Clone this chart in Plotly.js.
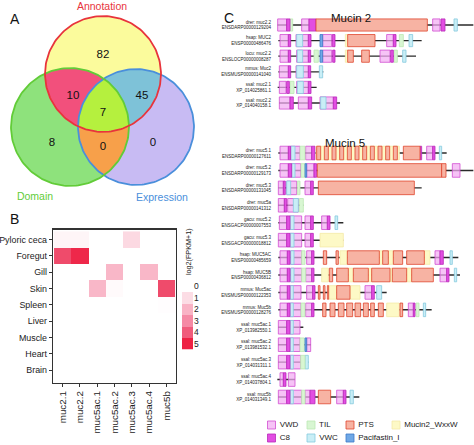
<!DOCTYPE html>
<html><head><meta charset="utf-8">
<script src="https://cdn.plot.ly/plotly-3.0.1.min.js"></script>
<style>html,body{margin:0;padding:0;background:#fff}#chart{width:474px;height:445px}</style>
</head><body><div id="chart"></div>
<script>
// ---------------- Panel A: Venn ----------------
const vennSets = ['Annotation', 'Domain', 'Expression'];
const vennCenterX = [103, 70, 136];
const vennCenterY = [74, 127, 127];
const vennRadius = [58, 59, 58];
const vennRegions = [[0], [1], [2], [0, 1], [0, 2], [1, 2], [0, 1, 2]];
const vennCounts = ['82', '8', '0', '10', '45', '0', '7'];
const vennCountX = [103, 52, 153, 73, 142, 103, 103];
const vennCountY = [55, 143, 143, 96, 96, 147, 113];
const vennLabelX = [102, 35, 162];
const vennLabelY = [7, 197, 198];

// ---------------- Panel B: heatmap ----------------
const tissues = ['Pyloric ceca', 'Foregut', 'Gill', 'Skin', 'Spleen', 'Liver', 'Muscle', 'Heart', 'Brain'];
const genes = ['muc2.1', 'muc2.2', 'muc5ac.1', 'muc5ac.2', 'muc5ac.3', 'muc5ac.4', 'muc5b'];
const pylori = [0.3, 0.3, 0, 0, 1.1, 0, 0];
const foregut = [4.3, 4.9, 0, 0, 0, 0, 0];
const gill = [0, 0, 0, 1.9, 0, 1.9, 0];
const skin = [0, 0, 1.9, 0.15, 0, 0, 4.3];
const spleen = [0, 0, 0, 0, 0, 0, 0.05];
const liver = [0, 0, 0, 0, 0, 0, 0];
const muscle = [0, 0, 0, 0, 0, 0, 0];
const heart = [0, 0, 0, 0, 0, 0, 0];
const brain = [0, 0, 0, 0, 0, 0, 0];
const legendLevels = [0, 1, 2, 3, 4, 5];

// ---------------- Panel C: domain architectures ----------------
const muc2Labels = [
  'drer: muc2.2<br>ENSDARP00000129204', 'hsap: MUC2<br>ENSP00000486476',
  'locu: muc2.2<br>ENSLOCP00000008287', 'mmus: Muc2<br>ENSMUSP00000141040',
  'ssal: muc2.1<br>XP_014025861.1', 'ssal: muc2.2<br>XP_014040158.1'];
const muc2Backbone = [[113, 700], [115, 545], [115, 528], [115, 250], [113, 230], [118, 300]];
const muc2Domains = [
  [['VWD',113,140],['C8',140,150],['TIL',150,158],['VWD',185,207],['C8',207,228],['PTS',228,562],['VWD',578,600],['C8',603,615],['VWC',642,652]],
  [['VWD',120,145],['C8',145,152],['VWD',168,205],['VWC',170,188],['C8',205,213],['Pacifastin_I',240,248],['VWD',248,275],['C8',277,285],['Mucin2_WxxW',316,325],['PTS',323,405],['VWD',440,460],['C8',460,468],['TIL',478,490],['VWC',507,518]],
  [['VWD',120,145],['C8',145,152],['VWD',170,205],['VWC',172,188],['C8',205,212],['TIL',222,235],['Pacifastin_I',240,248],['VWD',248,275],['C8',278,285],['Mucin2_WxxW',316,325],['PTS',323,340],['PTS',365,388],['VWD',420,450],['C8',452,460],['TIL',462,472],['VWC',488,498]],
  [['VWD',118,145],['C8',145,152],['VWD',168,205],['VWC',170,190],['C8',205,212],['VWC',238,248]],
  [['VWD',118,138],['C8',140,148],['TIL',150,162],['VWD',170,205],['VWC',172,190],['C8',205,213]],
  [['VWD',118,150],['C8',150,160],['VWD',175,205],['C8',205,215],['VWD',240,280],['VWC',242,258],['C8',280,290]]
];
const muc5Labels = [
  'drer: muc5.1<br>ENSDARP00000127611', 'drer: muc5.2<br>ENSDARP00000129173',
  'drer: muc5.3<br>ENSDARP00000131045', 'drer: muc5a<br>ENSDARP00000141312',
  'gacu: muc5.2<br>ENSGACP00000007553', 'gacu: muc5.3<br>ENSGACP00000018812',
  'hsap: MUC5AC<br>ENSP00000485659', 'hsap: MUC5B<br>ENSP00000436812',
  'mmus: Muc5ac<br>ENSMUSP00000122353', 'mmus: Muc5b<br>ENSMUSP00000128276',
  'ssal: muc5ac.1<br>XP_013982550.1', 'ssal: muc5ac.2<br>XP_013981532.1',
  'ssal: muc5ac.3<br>XP_014031311.1', 'ssal: muc5ac.4<br>XP_014037804.1',
  'ssal: muc5b<br>XP_014031349.1'];
const muc5Backbone = [[115,620],[115,700],[115,545],[115,190],[115,310],[115,310],[115,655],[115,660],[115,440],[115,575],[115,190],[115,212],[115,205],[112,165],[115,358]];
const muc5Domains = [
  [['VWD',120,145],['C8',145,152],['VWD',152,180],['VWC',152,165],['TIL',180,195],['VWD',197,215],['C8',215,225],
   ['Mucin2_WxxW',228,478],['PTS',230,242],['PTS',253,265],['PTS',276,288],['PTS',299,311],['PTS',322,334],['PTS',345,357],['PTS',368,380],['PTS',391,403],['PTS',414,426],['PTS',437,449],['PTS',460,472],
   ['PTS',490,540],['C8',540,545],['VWD',560,578],['C8',578,585],['VWC',598,605]],
  [['VWD',120,145],['C8',145,155],['VWD',155,182],['VWC',155,165],['TIL',183,195],['Pacifastin_I',195,200],['VWD',200,222],['C8',222,230],['PTS',232,605],['PTS',605,618],['VWD',637,660]],
  [['VWD',115,130],['C8',130,136],['VWD',140,170],['VWC',140,152],['TIL',172,180],['VWD',195,212],['C8',212,220],['PTS',235,523]],
  [['VWD',115,133],['C8',133,140],['VWD',143,175],['VWC',160,175],['TIL',178,190]],
  [['VWD',118,140],['C8',140,150],['VWD',150,185],['VWC',150,162],['VWD',195,212],['C8',212,220],['VWD',245,262],['C8',262,270],['VWC',285,293]],
  [['VWD',115,140],['C8',140,150],['VWD',150,185],['VWC',150,162],['VWD',195,212],['C8',212,220],['Mucin2_WxxW',240,310]],
  [['VWD',120,142],['C8',142,150],['VWD',152,185],['VWC',152,162],['TIL',185,195],['VWD',200,215],['C8',215,222],['PTS',250,260],['PTS',288,295],['Mucin2_WxxW',300,322],['PTS',322,418],['Mucin2_WxxW',418,428],['PTS',428,445],['Mucin2_WxxW',445,460],['PTS',460,488],['PTS',500,553],['Mucin2_WxxW',553,570],['VWD',585,600],['C8',600,610],['VWC',630,637]],
  [['VWD',120,142],['C8',142,150],['VWD',152,185],['VWC',152,162],['TIL',185,197],['VWD',197,215],['C8',215,222],['Mucin2_WxxW',245,265],['PTS',268,278],['PTS',290,325],['Mucin2_WxxW',325,340],['PTS',340,385],['Mucin2_WxxW',385,395],['PTS',395,450],['Mucin2_WxxW',450,457],['PTS',457,500],['Mucin2_WxxW',500,515],['PTS',515,580],['VWD',600,620],['C8',620,627],['VWC',643,650]],
  [['VWD',120,142],['C8',142,150],['VWD',150,183],['VWC',150,160],['VWD',200,218],['C8',218,225],['PTS',235,240],['PTS',250,255],['PTS',262,266],['Mucin2_WxxW',266,290],['PTS',290,330],['Mucin2_WxxW',330,360],['VWD',375,395],['C8',395,403],['VWC',410,425]],
  [['VWD',120,142],['C8',142,150],['VWD',150,183],['VWC',150,160],['TIL',183,195],['VWD',197,215],['C8',215,222],['PTS',248,258],['PTS',270,285],['PTS',295,312],['PTS',320,338],['PTS',345,362],['PTS',370,385],['PTS',392,403],['PTS',415,430],['Mucin2_WxxW',440,478],['PTS',480,488],['VWD',505,520],['C8',520,525],['TIL',528,537],['VWC',550,557]],
  [['VWD',115,140],['C8',140,150],['VWD',150,180],['VWC',150,160]],
  [['VWD',115,140],['C8',140,150],['VWD',150,180],['VWC',150,160],['TIL',180,193],['Pacifastin_I',195,200],['VWD',200,212]],
  [['VWD',115,140],['C8',140,150],['VWD',150,182],['VWC',150,160],['TIL',182,195],['VWC',195,205]],
  [['VWD',120,130],['C8',130,138],['VWD',145,165]],
  [['VWD',115,140],['C8',140,150],['VWD',150,185],['VWC',150,160],['TIL',185,195],['VWD',195,210],['C8',210,225],['PTS',235,272],['VWD',290,310],['C8',310,318],['VWC',330,340]]
];
const domainTypes = ['VWD', 'VWC', 'TIL', 'C8', 'Pacifastin_I', 'Mucin2_WxxW', 'PTS'];
const legendOrder = ['VWD', 'C8', 'TIL', 'VWC', 'PTS', 'Pacifastin_I', 'Mucin2_WxxW'];

// ---------------- styles ----------------
const W = 474, H = 445;
const FONT = 'Liberation Sans, Arial, Helvetica, sans-serif';
const vennSetColors = ['#e8343c', '#62cc38', '#4a8fdb'];
const vennRegionColors = ['#fbfb9c', '#8ee27c', '#c8bbf3', '#f2507c', '#7ec2d8', '#f7a04a', '#b5f03e'];
const heatColors = ['#ffffff', '#fcdde5', '#f9b3c5', '#f58aa5', '#f05c7c', '#ee2244'];
const domFill = {VWD:'rgba(242,172,242,0.72)', VWC:'#c9eef6', TIL:'#d8f6d2', C8:'#e24ee2', Pacifastin_I:'#6fa8e6', Mucin2_WxxW:'#fdf9c6', PTS:'#f7b3a3'};
const domLine = {VWD:'#d24ed2', VWC:'#86cade', TIL:'#bce9b4', C8:'#b92ab9', Pacifastin_I:'#3d78c8', Mucin2_WxxW:'#f4eaa8', PTS:'#e0452d'};

const fx = px => px / W;
const fy = py => 1 - py / H;

const traces = [];

// Venn geometry
function circlePts(i, n) {
  const p = [];
  for (let k = 0; k < n; k++) {
    const t = 2 * Math.PI * k / n;
    p.push([vennCenterX[i] + vennRadius[i] * Math.cos(t), vennCenterY[i] + vennRadius[i] * Math.sin(t)]);
  }
  return p;
}
function clipPoly(subject, clipper) {
  let out = subject;
  for (let i = 0; i < clipper.length; i++) {
    const a = clipper[i], b = clipper[(i + 1) % clipper.length];
    const inp = out; out = [];
    if (!inp.length) break;
    const inside = p => (b[0] - a[0]) * (p[1] - a[1]) - (b[1] - a[1]) * (p[0] - a[0]) >= 0;
    const inter = (p, q) => {
      const a1 = b[1] - a[1], b1 = a[0] - b[0], c1 = a1 * a[0] + b1 * a[1];
      const a2 = q[1] - p[1], b2 = p[0] - q[0], c2 = a2 * p[0] + b2 * p[1];
      const d = a1 * b2 - a2 * b1;
      return [(b2 * c1 - b1 * c2) / d, (a1 * c2 - a2 * c1) / d];
    };
    for (let j = 0; j < inp.length; j++) {
      const cur = inp[j], prev = inp[(j + inp.length - 1) % inp.length];
      if (inside(cur)) { if (!inside(prev)) out.push(inter(prev, cur)); out.push(cur); }
      else if (inside(prev)) out.push(inter(prev, cur));
    }
  }
  return out;
}
vennRegions.forEach((sets, r) => {
  let poly = circlePts(sets[0], 180);
  for (let s = 1; s < sets.length; s++) poly = clipPoly(poly, circlePts(sets[s], 180));
  traces.push({type: 'scatter', mode: 'lines', x: poly.map(p => p[0]).concat([poly[0][0]]), y: poly.map(p => p[1]).concat([poly[0][1]]),
    fill: 'toself', fillcolor: vennRegionColors[r], line: {width: 0}, hoverinfo: 'skip', showlegend: false, xaxis: 'x', yaxis: 'y'});
});
[2, 1, 0].forEach(i => {
  const p = circlePts(i, 180);
  traces.push({type: 'scatter', mode: 'lines', x: p.map(q => q[0]).concat([p[0][0]]), y: p.map(q => q[1]).concat([p[0][1]]),
    line: {color: vennSetColors[i], width: 1.8}, hoverinfo: 'skip', showlegend: false, xaxis: 'x', yaxis: 'y'});
});
traces.push({type: 'scatter', mode: 'text', x: vennCountX, y: vennCountY, text: vennCounts,
  textfont: {family: FONT, size: 11.5, color: '#111'}, hoverinfo: 'skip', showlegend: false, xaxis: 'x', yaxis: 'y'});
traces.push({type: 'scatter', mode: 'text', x: vennLabelX, y: vennLabelY, text: vennSets,
  textfont: {family: FONT, size: 10.5, color: vennSetColors}, hoverinfo: 'skip', showlegend: false, xaxis: 'x', yaxis: 'y'});

// Heatmap
const heatZ = [pylori, foregut, gill, skin, spleen, liver, muscle, heart, brain];
const heatScale = heatColors.map((c, i) => [i / (heatColors.length - 1), c]);
traces.push({type: 'heatmap', z: heatZ, x: genes.map((g, i) => i), y: tissues.map((t, i) => i),
  zmin: 0, zmax: 5, colorscale: heatScale, showscale: false, hoverinfo: 'skip', xaxis: 'x2', yaxis: 'y2'});
traces.push({type: 'heatmap', z: legendLevels.map(v => [v]), x: [0], y: legendLevels.map((v, i) => i),
  zmin: 0, zmax: 5, colorscale: heatScale, showscale: false, hoverinfo: 'skip', xaxis: 'x4', yaxis: 'y5'});

// Domain architectures
function addGroup(backbone, domains, yax) {
  traces.push({type: 'bar', orientation: 'h', y: backbone.map((b, i) => i), base: backbone.map(b => b[0]),
    x: backbone.map(b => b[1] - b[0]), width: 0.085, marker: {color: '#2a2a2a', line: {width: 0}},
    hoverinfo: 'skip', showlegend: false, xaxis: 'x3', yaxis: yax});
  domainTypes.forEach(t => {
    const ys = [], bs = [], ls = [];
    domains.forEach((row, i) => row.forEach(d => { if (d[0] === t) { ys.push(i); bs.push(d[1]); ls.push(d[2] - d[1]); } }));
    if (!ys.length) return;
    traces.push({type: 'bar', orientation: 'h', y: ys, base: bs, x: ls, width: 0.78,
      marker: {color: domFill[t], line: {color: domLine[t], width: 0.8}},
      hoverinfo: 'skip', showlegend: false, xaxis: 'x3', yaxis: yax});
  });
}
addGroup(muc2Backbone, muc2Domains, 'y3');
addGroup(muc5Backbone, muc5Domains, 'y4');

// Domain legend
const legColX = [271.5, 311, 350, 396];
const legRowY = [425, 438];
traces.push({type: 'scatter', mode: 'markers+text',
  x: legendOrder.map((n, i) => legColX[Math.floor(i / 2)]), y: legendOrder.map((n, i) => legRowY[i % 2]),
  text: legendOrder.map(n => ' ' + n), textposition: 'middle right',
  textfont: {family: FONT, size: 8, color: '#222'},
  marker: {symbol: 'square', size: 8, color: legendOrder.map(n => domFill[n]), line: {width: 0.8, color: legendOrder.map(n => domLine[n])}},
  hoverinfo: 'skip', showlegend: false, xaxis: 'x5', yaxis: 'y6'});

const hidden = {visible: false, fixedrange: true};
const catTickAxis = {showgrid: false, zeroline: false, ticks: '', showline: false, fixedrange: true,
  tickfont: {family: FONT, size: 4.5, color: '#222'}};

const layout = {
  width: W, height: H, margin: {l: 0, r: 0, t: 0, b: 0}, paper_bgcolor: '#fff', plot_bgcolor: 'rgba(0,0,0,0)',
  showlegend: false, barmode: 'overlay', font: {family: FONT},
  xaxis: Object.assign({}, hidden, {domain: [0, fx(220)], range: [0, 220], anchor: 'y'}),
  yaxis: Object.assign({}, hidden, {domain: [fy(215), 1], range: [215, 0], anchor: 'x'}),
  xaxis2: {domain: [fx(53), fx(176)], range: [-0.56, 6.56], anchor: 'y2', tickvals: genes.map((g, i) => i), ticktext: genes,
    tickangle: -90, ticks: 'outside', ticklen: 3, tickcolor: '#333', showline: true, linecolor: '#333', linewidth: 1.2,
    mirror: true, showgrid: false, zeroline: false, fixedrange: true, tickfont: {family: FONT, size: 9.8, color: '#222'}},
  yaxis2: {domain: [fy(383), fy(229.5)], range: [8.78, -0.62], anchor: 'x2', tickvals: tissues.map((t, i) => i), ticktext: tissues,
    ticks: 'outside', ticklen: 3, tickcolor: '#333', showline: true, linecolor: '#333', linewidth: 1.2,
    mirror: true, showgrid: false, zeroline: false, fixedrange: true, tickfont: {family: FONT, size: 8.9, color: '#222'}},
  xaxis3: Object.assign({}, hidden, {domain: [fx(272), 1], range: [96, 702], anchor: 'y3'}),
  yaxis3: Object.assign({}, catTickAxis, {domain: [fy(110.8), fy(17.2)], range: [5.5, -0.5], anchor: 'x3',
    tickvals: muc2Labels.map((l, i) => i), ticktext: muc2Labels}),
  yaxis4: Object.assign({}, catTickAxis, {domain: [fy(405.7), fy(144.3)], range: [14.5, -0.5], anchor: 'x3',
    tickvals: muc5Labels.map((l, i) => i), ticktext: muc5Labels}),
  xaxis4: Object.assign({}, hidden, {domain: [fx(182), fx(193)], range: [-0.5, 0.5], anchor: 'y5'}),
  yaxis5: {domain: [fy(349.5), fy(280.5)], range: [5.5, -0.5], anchor: 'x4', side: 'right',
    tickvals: legendLevels.map((v, i) => i), ticktext: legendLevels.map(String), ticks: '', showline: false,
    showgrid: false, zeroline: false, fixedrange: true, tickfont: {family: FONT, size: 8.5, color: '#222'}},
  xaxis5: Object.assign({}, hidden, {domain: [fx(240), 1], range: [240, 474], anchor: 'y6'}),
  yaxis6: Object.assign({}, hidden, {domain: [0, fy(415)], range: [445, 415], anchor: 'x5'}),
  annotations: [
    {text: 'A', x: fx(8), y: fy(9), xref: 'paper', yref: 'paper', showarrow: false, font: {family: FONT, size: 14, color: '#111'}},
    {text: 'B', x: fx(8), y: fy(219), xref: 'paper', yref: 'paper', showarrow: false, font: {family: FONT, size: 14, color: '#111'}},
    {text: 'C', x: fx(229), y: fy(8), xref: 'paper', yref: 'paper', showarrow: false, font: {family: FONT, size: 14, color: '#111'}},
    {text: 'Mucin 2', x: fx(373), y: fy(10), xref: 'paper', yref: 'paper', showarrow: false, font: {family: FONT, size: 11.5, color: '#111'}},
    {text: 'Mucin 5', x: fx(367), y: fy(135), xref: 'paper', yref: 'paper', showarrow: false, font: {family: FONT, size: 11.5, color: '#111'}},
    {text: 'log2(FPKM+1)', textangle: -90, x: fx(188), y: fy(252), xref: 'paper', yref: 'paper', showarrow: false, font: {family: FONT, size: 7.2, color: '#222'}}
  ]
};
Plotly.newPlot('chart', traces, layout, {staticPlot: true, displayModeBar: false});
</script></body></html>
